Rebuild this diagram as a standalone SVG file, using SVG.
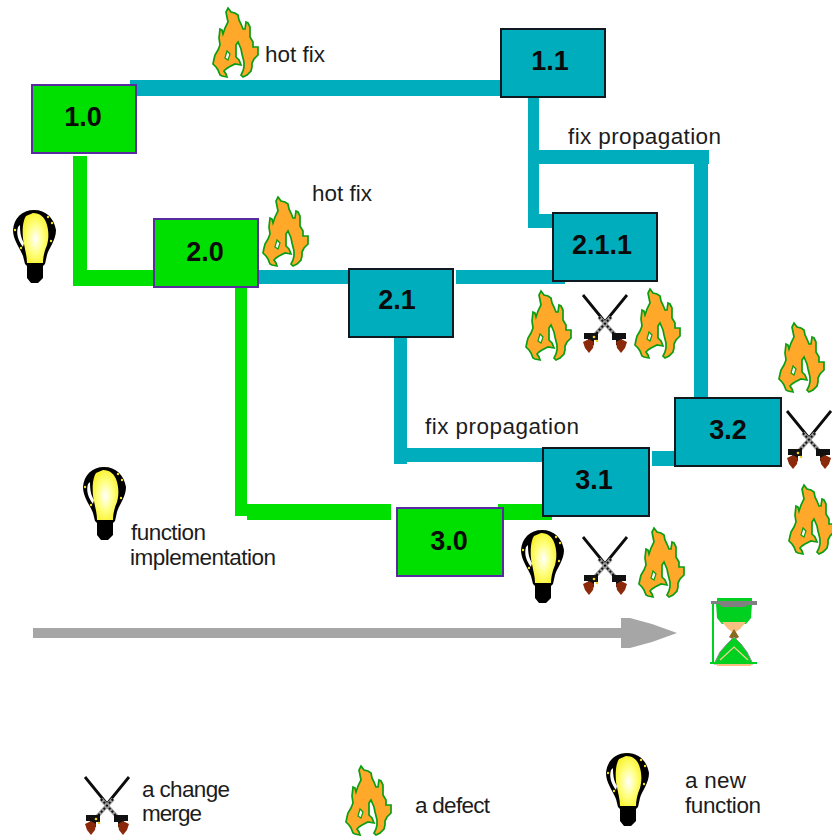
<svg xmlns="http://www.w3.org/2000/svg" width="832" height="836" viewBox="0 0 832 836">
<style>
text{font-family:"Liberation Sans",Arial,sans-serif;fill:#1c1c1c}
.lbl{font-size:22.5px}
.num{font-size:27px;font-weight:bold;text-anchor:middle;fill:#0a0a0a}
.g{fill:#00e000;stroke:#5a2aa0;stroke-width:2}
.t{fill:#00adbd;stroke:#101820;stroke-width:2}
.cg{fill:#00e000}
.ct{fill:#00adbd}
</style>
<defs>
<radialGradient id="glow" cx="0.5" cy="0.52" r="0.6"><stop offset="0" stop-color="#ffffff"/><stop offset="0.5" stop-color="#ffff80"/><stop offset="1" stop-color="#f8f020"/></radialGradient>
<g id="flame">
<path d="M15 0L18 4L22 5L25 7L26 12L28 16L30 21L32 21L33 14L35 15L37 19L37 29L40 34L40 39L45 39L45 47L41 51L39 55L39 59L38 63L34 67L30 69L28 67L30 63L31 59L31 54L30 50L29 46L28 41L25 34L23 37L23 43L23 49L26 52L28 57L22 56L16 59L13 61L11 63L13 66L14 69L9 68L7 67L5 62L3 59L0 56L1 51L2 47L5 42L7 37L6 30L7 21L9 22L10 26L12 20L15 14L14 9L13 4Z" fill="#ffa829" stroke="#0a9e14" stroke-width="1.7" stroke-linejoin="miter"/>
<path d="M14 43L12 50L15 52L17 46Z" fill="#ffffff" stroke="#0a9e14" stroke-width="1.2"/>
</g>
<g id="bulb">
<path d="M21 0C33 0 41 8 43 20C43 30 36 38 34 45L32 54L30 56L30 68L25 73L18 73L14 68L14 56L12 54L10 46C7 38 0 30 0 20C1 8 9 0 21 0Z" fill="#000"/>
<path d="M20 3C27 3 31 7 33 12C36 20 36 28 34 35C31 42 30 48 30 53L14 53C14 46 12 40 11 34C9 26 9 12 13 6Z" fill="url(#glow)"/>
<path d="M5 17C3 24 5 30 10 37L11 33C8 28 7 23 7 15Z" fill="#fff"/>
<circle cx="35" cy="7" r="1.2" fill="#f4e020"/><circle cx="39" cy="13" r="1.2" fill="#f4e020"/><circle cx="38" cy="31" r="1.2" fill="#f4e020"/><circle cx="8" cy="38" r="1.2" fill="#f4e020"/><circle cx="2" cy="20" r="1.2" fill="#f4e020"/>
</g>
<g id="swords">
<path d="M1 0L23 27M45 0L23 27" stroke="#0c0c0c" stroke-width="2.8" fill="none"/>
<path d="M17 22L36 43M29 22L10 43" stroke="#9a9a9a" stroke-width="4" fill="none"/>
<path d="M17 22L36 43M29 22L10 43" stroke="#111" stroke-width="2" stroke-dasharray="2 2" fill="none"/>
<path d="M2 38L16 38L16 45L12 45L12 50L6 50L6 44L2 44ZM44 38L30 38L30 45L34 45L34 50L40 50L40 44L44 44Z" fill="#111"/>
<path d="M1 47L7 44L12 47L11 53L7 58L3 53ZM45 47L39 44L34 47L35 53L39 58L43 53Z" fill="#8a2a0a"/>
<circle cx="12" cy="42" r="1.3" fill="#f4d020"/><circle cx="15" cy="46" r="1.3" fill="#f4d020"/>
</g>
</defs>

<g id="connectors">
<rect class="ct" x="130" y="80" width="371" height="16"/>
<rect class="ct" x="528" y="97" width="11" height="131"/>
<rect class="ct" x="528" y="214" width="26" height="14"/>
<rect class="ct" x="539" y="150" width="170" height="14"/>
<rect class="ct" x="694" y="164" width="14" height="234"/>
<rect class="ct" x="258" y="270" width="91" height="14"/>
<rect class="ct" x="456" y="270" width="109" height="14"/>
<rect class="ct" x="394" y="338" width="13" height="126"/>
<rect class="ct" x="394" y="448" width="149" height="14"/>
<rect class="ct" x="652" y="451" width="23" height="15"/>
<rect class="cg" x="73" y="156" width="14" height="130"/>
<rect class="cg" x="73" y="270" width="82" height="16"/>
<rect class="cg" x="235" y="287" width="12" height="229"/>
<rect class="cg" x="247" y="504" width="144" height="16"/>
<rect class="cg" x="498" y="504" width="54" height="16"/>
</g>

<g id="node-1-0"><rect class="g" x="32" y="85" width="104" height="68"/><text class="num" x="83" y="126">1.0</text></g>
<g id="node-2-0"><rect class="g" x="154" y="219" width="104" height="68"/><text class="num" x="205" y="261">2.0</text></g>
<g id="node-3-0"><rect class="g" x="397" y="508" width="106" height="68"/><text class="num" x="449" y="550">3.0</text></g>
<g id="node-1-1"><rect class="t" x="501" y="29" width="104" height="68"/><text class="num" x="550" y="70">1.1</text></g>
<g id="node-2-1-1"><rect class="t" x="553" y="213" width="104" height="68"/><text class="num" x="602" y="254">2.1.1</text></g>
<g id="node-2-1"><rect class="t" x="349" y="269" width="104" height="68"/><text class="num" x="397" y="309">2.1</text></g>
<g id="node-3-1"><rect class="t" x="543" y="448" width="106" height="68"/><text class="num" x="594" y="489">3.1</text></g>
<g id="node-3-2"><rect class="t" x="675" y="398" width="106" height="68"/><text class="num" x="728" y="439">3.2</text></g>

<g id="timeline">
<path d="M33 628H621V618H630L652 624L677 633L652 642L630 648H621V638H33Z" fill="#a6a6a6"/>
</g>
<g id="hourglass">
<rect x="717" y="598" width="35" height="4" fill="#00d020"/>
<path d="M716 603H752L751 618L746 624H722L717 618Z" fill="#00d020"/>
<path d="M711 601H757V605H748L744 607H722L719 604H711Z" fill="#808080"/>
<path d="M722 622H746L740 629L734 633L728 629Z" fill="#f8c080"/>
<path d="M734 629L739 637L734 640L729 637Z" fill="#8a6a20"/>
<path d="M734 637L741 644L747 652L753 664H714L720 652L727 644Z" fill="#00d020" stroke="#909090" stroke-width="1"/>
<path d="M720 660L734 647L748 660" fill="none" stroke="#f8d090" stroke-width="1.2"/>
<rect x="712" y="604" width="2" height="60" fill="#00d020"/>
<rect x="710" y="662" width="47" height="2" fill="#00d020"/>
<rect x="717" y="664" width="34" height="2" fill="#f8c080"/>
</g>

<g id="flames">
<use href="#flame" x="213" y="8"/>
<use href="#flame" x="263" y="197"/>
<use href="#flame" x="526" y="291"/>
<use href="#flame" x="635" y="289"/>
<use href="#flame" x="779" y="323"/>
<use href="#flame" x="789" y="485"/>
<use href="#flame" x="639" y="528"/>
<use href="#flame" x="346" y="766"/>
</g>
<g id="bulbs">
<use href="#bulb" x="13" y="210"/>
<use href="#bulb" x="83" y="467"/>
<use href="#bulb" x="521" y="530"/>
<use href="#bulb" x="606" y="753"/>
</g>
<g id="merges">
<use href="#swords" x="582" y="295"/>
<use href="#swords" x="582" y="537"/>
<use href="#swords" x="786" y="411"/>
<use href="#swords" x="84" y="777"/>
</g>

<g id="labels">
<text class="lbl" x="265" y="62" textLength="60">hot fix</text>
<text class="lbl" x="312" y="201" textLength="60">hot fix</text>
<text class="lbl" x="568" y="144" textLength="153">fix propagation</text>
<text class="lbl" x="425" y="434" textLength="154">fix propagation</text>
<text class="lbl" x="131" y="540" textLength="75">function</text>
<text class="lbl" x="130" y="565" textLength="146">implementation</text>
<text class="lbl" x="142" y="797" textLength="88">a change</text>
<text class="lbl" x="142" y="821" textLength="60">merge</text>
<text class="lbl" x="415" y="813" textLength="75">a defect</text>
<text class="lbl" x="685" y="788" textLength="61">a new</text>
<text class="lbl" x="685" y="813" textLength="76">function</text>
</g>
</svg>
